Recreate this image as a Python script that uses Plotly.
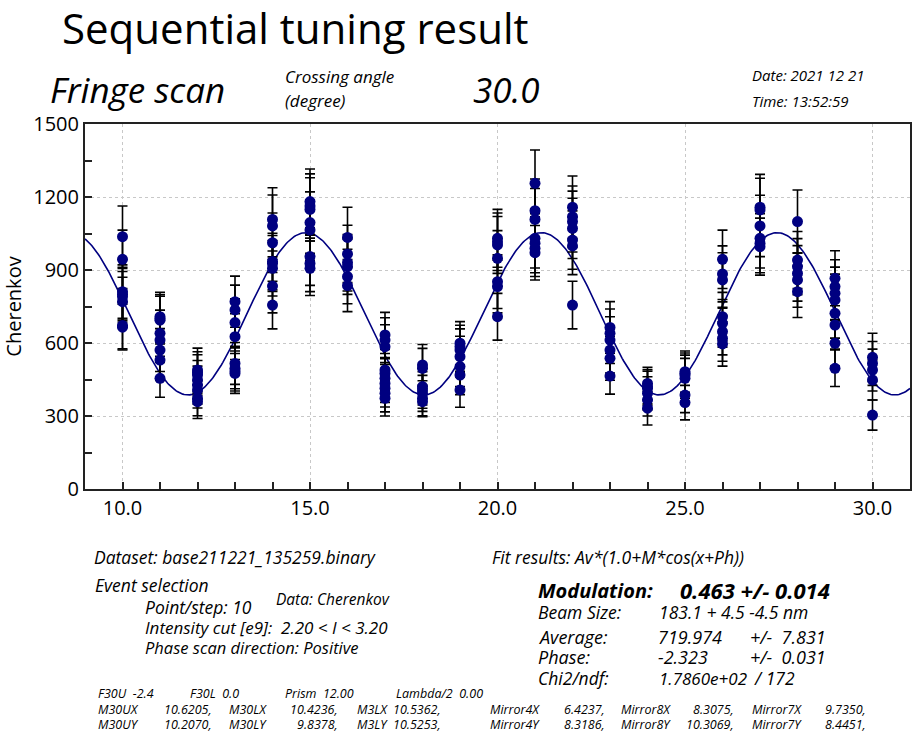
import numpy as np
import plotly.graph_objects as go

# Scan positions (phase steps) and the Cherenkov signal recorded at each step
steps = [10, 11, 12, 13, 14, 15, 16, 17, 18, 19, 20, 21, 22, 23, 24, 25, 26, 27, 28, 29, 30]

cherenkov = [
    [1037, 944, 811, 800, 790, 770, 672, 665],
    [708, 700, 694, 640, 612, 571, 530, 455],
    [489, 478, 468, 448, 427, 407, 373, 359],
    [770, 736, 684, 626, 516, 496, 485, 475],
    [1108, 1081, 1012, 935, 927, 907, 834, 756],
    [1181, 1163, 1149, 1095, 1064, 955, 927, 907],
    [1034, 966, 930, 914, 873, 836],
    [633, 612, 585, 489, 475, 455, 434, 414, 393, 373],
    [510, 496, 421, 407, 393, 373, 359],
    [599, 585, 571, 544, 503, 468, 407],
    [1030, 1016, 1003, 948, 852, 832, 708],
    [1256, 1144, 1108, 1030, 1010, 989, 971],
    [1158, 1119, 1099, 1071, 1023, 999, 756],
    [664, 640, 612, 571, 537, 464],
    [434, 420, 414, 393, 366, 332],
    [482, 475, 468, 455, 386, 355],
    [944, 884, 859, 708, 681, 647, 619, 596],
    [1158, 1147, 1081, 1030, 1010, 996],
    [1099, 941, 914, 886, 859, 811],
    [866, 832, 804, 777, 722, 674, 599, 496],
    [541, 516, 489, 448, 304],
]

cherenkov_err = [
    [126, 120, 110, 106, 104, 100, 96, 94],
    [100, 98, 98, 95, 92, 88, 84, 78],
    [90, 86, 84, 80, 78, 74, 72, 69],
    [105, 102, 98, 94, 86, 84, 82, 82],
    [130, 127, 122, 116, 115, 114, 110, 98],
    [134, 132, 130, 126, 124, 118, 116, 112],
    [124, 118, 116, 114, 112, 107],
    [93, 92, 90, 84, 82, 80, 78, 77, 76, 73],
    [84, 82, 76, 75, 74, 72, 62],
    [89, 88, 87, 84, 82, 80, 71],
    [119, 118, 117, 114, 110, 108, 96],
    [137, 130, 127, 122, 121, 116, 112],
    [128, 126, 125, 124, 120, 118, 98],
    [106, 100, 96, 94, 90, 74],
    [66, 70, 70, 68, 66, 69],
    [85, 84, 82, 82, 72, 71],
    [120, 115, 112, 100, 98, 96, 94, 91],
    [135, 130, 126, 122, 121, 117],
    [130, 117, 115, 114, 112, 106],
    [113, 110, 108, 106, 102, 99, 94, 75],
    [99, 90, 86, 82, 62],
]

# Fit parameters: Av*(1.0+M*cos(x+Ph))
fit_average = 719.974
fit_modulation = 0.463
fit_phase = -2.323

x_range = [9.0, 31.0]
y_range = [0, 1500]
x_ticks = [10, 15, 20, 25, 30]
y_ticks = [0, 300, 600, 900, 1200, 1500]

NAVY = "#000080"
FONT = "Open Sans"

# Flatten the per-step measurements
xs, ys, es = [], [], []
for s, vals, errs in zip(steps, cherenkov, cherenkov_err):
    xs += [s] * len(vals)
    ys += vals
    es += errs

xf = np.linspace(x_range[0], x_range[1], 600)
yf = fit_average * (1.0 + fit_modulation * np.cos(xf + fit_phase))

fig = go.Figure()
fig.add_trace(go.Scatter(
    x=xf, y=yf, mode="lines",
    line=dict(color=NAVY, width=1.6),
    hoverinfo="skip", showlegend=False,
))
fig.add_trace(go.Scatter(
    x=xs, y=ys, mode="markers",
    marker=dict(color=NAVY, size=11, line=dict(width=0)),
    error_y=dict(type="data", array=es, visible=True, color="black",
                 thickness=1.6, width=5),
    showlegend=False,
))

W, H = 916, 733
L, R, T, B = 85, 4, 124, 244
PW, PH = W - L - R, H - T - B


def px(x):
    return (x - L) / PW


def py(y):
    return 1 - (y - T) / PH


def note(text, x, y, size, italic=True, bold=False, anchor="left"):
    style = "italic" if italic else "normal"
    fig.add_annotation(
        text=text, x=px(x), y=py(y), xref="paper", yref="paper",
        xanchor=anchor, yanchor="middle", showarrow=False,
        font=dict(family=FONT, size=size, color="black", style=style,
                  weight="bold" if bold else "normal"),
    )


# Header
note("Sequential tuning result", 60, 28, 42, italic=False)
note("Fringe scan", 48, 90, 35)
note("Crossing angle", 283, 76, 17)
note("(degree)", 283, 101, 17)
note("30.0", 472, 90, 35)
note("Date: 2021 12 21", 752, 75, 15)
note("Time: 13:52:59", 752, 101, 15)

# Dataset and event selection
note("Dataset: base211221_135259.binary", 92, 557, 17.5)
note("Event selection", 93, 585, 17.5)
note("Data: Cherenkov", 274, 599, 15.5)
note("Point/step: 10", 143, 607, 17.5)
note("Intensity cut [e9]:  2.20 &lt; I &lt; 3.20", 143, 627, 17)
note("Phase scan direction: Positive", 143, 647, 16.5)

# Fit results
note("Fit results: Av*(1.0+M*cos(x+Ph))", 491, 557, 17.5)
note("Modulation:", 537, 590, 20, bold=True)
note(f"{fit_modulation:.3f} +/- 0.014", 679, 590, 22, bold=True)
note("Beam Size:", 537, 612, 17.5)
note("183.1 + 4.5 -4.5 nm", 658, 612, 17.5)
note("Average:", 537, 637, 18)
note(f"{fit_average:.3f}", 657, 637, 18)
note("+/-  7.831", 750, 637, 18)
note("Phase:", 537, 657, 18)
note(f"{fit_phase:.3f}", 657, 657, 18)
note("+/-  0.031", 750, 657, 18)
note("Chi2/ndf:", 537, 678, 17.5)
note("1.7860e+02", 658, 678, 17)
note("/ 172", 754, 678, 17.5)

# Actuator settings
settings_rows = [
    (693, [("F30U  -2.4", 96, "left"), ("F30L  0.0", 188, "left"),
           ("Prism  12.00", 283, "left"), ("Lambda/2  0.00", 395, "left")]),
    (709, [("M30UX", 96, "left"), ("10.6205,", 162, "left"), ("M30LX", 227, "left"),
           ("10.4236,", 341, "right"), ("M3LX", 356, "left"), ("10.5362,", 392, "left"),
           ("Mirror4X", 489, "left"), ("6.4237,", 563, "left"), ("Mirror8X", 620, "left"),
           ("8.3075,", 738, "right"), ("Mirror7X", 752, "left"), ("9.7350,", 825, "left")]),
    (724, [("M30UY", 96, "left"), ("10.2070,", 162, "left"), ("M30LY", 227, "left"),
           ("9.8378,", 341, "right"), ("M3LY", 356, "left"), ("10.5253,", 392, "left"),
           ("Mirror4Y", 489, "left"), ("8.3186,", 563, "left"), ("Mirror8Y", 620, "left"),
           ("10.3069,", 738, "right"), ("Mirror7Y", 752, "left"), ("8.4451,", 825, "left")]),
]
for yy, cells in settings_rows:
    for text, xx, anc in cells:
        note(text, xx, yy, 12.5, anchor=anc)

axis_common = dict(
    showline=True, linecolor="#222", linewidth=2, mirror=True,
    showgrid=True, gridcolor="#c8c8c8", griddash="3px,3px", gridwidth=1.2,
    ticks="inside", ticklen=7, tickwidth=1.5, tickcolor="#222",
    zeroline=False,
    tickfont=dict(family=FONT, size=20, color="black"),
)

fig.update_xaxes(
    range=x_range, tickvals=x_ticks, ticktext=[f"{v:.1f}" for v in x_ticks],
    minor=dict(dtick=1, ticks="inside", ticklen=7, tickcolor="#222", showgrid=False),
    **axis_common,
)
fig.update_yaxes(
    range=y_range, tickvals=y_ticks,
    minor=dict(dtick=150, ticks="inside", ticklen=7, tickcolor="#222", showgrid=False),
    title=dict(text="Cherenkov", font=dict(family=FONT, size=20, color="black"), standoff=6),
    **axis_common,
)

fig.update_layout(
    width=W, height=H,
    margin=dict(l=L, r=R, t=T, b=B),
    paper_bgcolor="white", plot_bgcolor="white",
    font=dict(family=FONT),
)

fig.write_html("out.html")
